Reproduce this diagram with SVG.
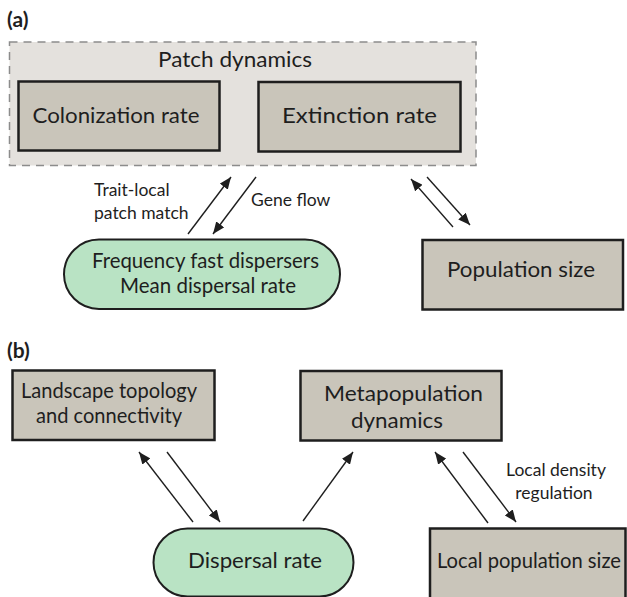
<svg xmlns="http://www.w3.org/2000/svg" width="627" height="597" viewBox="0 0 627 597">
<defs>
<marker id="ah" markerUnits="userSpaceOnUse" markerWidth="13" markerHeight="10" refX="12" refY="5" orient="auto">
<path d="M0,0 L12,5 L0,10 z" fill="#1e1e1e"/>
</marker>
<style>
.box{fill:#c9c5ba;stroke:#1e1e1e;stroke-width:2.5}
.pill{fill:#b9e3c4;stroke:#1e1e1e;stroke-width:2}
.grp{fill:#e4e1dd;stroke:#8c8c8c;stroke-width:1.5;stroke-dasharray:8 6}
.t{font-family:Lato,"Open Sans",sans-serif;fill:#1e1e1e;text-anchor:middle}
.big{font-size:22px}
.mid{font-size:20.5px}
.sm{font-size:17.5px}
.lab{font-family:Lato,"Liberation Sans",sans-serif;font-weight:bold;font-size:21px;fill:#1e1e1e}
.c line{stroke:#1e1e1e;stroke-width:1.4;marker-end:url(#ah)}
</style>
</defs>
<rect width="627" height="597" fill="#ffffff"/>
<text class="lab" x="7" y="27">(a)</text>
<text class="lab" x="7" y="358">(b)</text>

<g id="patch-dynamics">
<rect class="grp" x="9.5" y="42" width="466.5" height="123.5"/>
<text class="t big" x="235" y="67" textLength="154" lengthAdjust="spacingAndGlyphs">Patch dynamics</text>
</g>
<g id="colonization-rate">
<rect class="box" x="18.5" y="81.5" width="201" height="69"/>
<text class="t big" x="116" y="123" textLength="167" lengthAdjust="spacingAndGlyphs">Colonization rate</text>
</g>
<g id="extinction-rate">
<rect class="box" x="258.5" y="82" width="202" height="69.5"/>
<text class="t big" x="359.5" y="123" textLength="155" lengthAdjust="spacingAndGlyphs">Extinction rate</text>
</g>
<g id="frequency">
<rect class="pill" x="64" y="239.5" width="276" height="69.5" rx="35" ry="35"/>
<text class="t mid" x="205.5" y="268" textLength="227" lengthAdjust="spacingAndGlyphs">Frequency fast dispersers</text>
<text class="t mid" x="208" y="293" textLength="176" lengthAdjust="spacingAndGlyphs">Mean dispersal rate</text>
</g>
<g id="population-size">
<rect class="box" x="422.5" y="240" width="200.5" height="69.5"/>
<text class="t big" x="521" y="277" textLength="148" lengthAdjust="spacingAndGlyphs">Population size</text>
</g>

<g id="landscape">
<rect class="box" x="12.5" y="370.5" width="202" height="69.5"/>
<text class="t big" x="109" y="398" textLength="176" lengthAdjust="spacingAndGlyphs">Landscape topology</text>
<text class="t big" x="109" y="423" textLength="146" lengthAdjust="spacingAndGlyphs">and connectivity</text>
</g>
<g id="metapopulation">
<rect class="box" x="300.5" y="371" width="201" height="69.5"/>
<text class="t big" x="403.5" y="401" textLength="159" lengthAdjust="spacingAndGlyphs">Metapopulation</text>
<text class="t big" x="397" y="428" textLength="92" lengthAdjust="spacingAndGlyphs">dynamics</text>
</g>
<g id="dispersal-rate">
<rect class="pill" x="153.5" y="528.5" width="200" height="68" rx="34" ry="34"/>
<text class="t big" x="255" y="568" textLength="134" lengthAdjust="spacingAndGlyphs">Dispersal rate</text>
</g>
<g id="local-population-size">
<rect class="box" x="430" y="528.5" width="195.5" height="72"/>
<text class="t big" x="529" y="568" textLength="184" lengthAdjust="spacingAndGlyphs">Local population size</text>
</g>

<g id="edge-labels">
<text class="t sm" x="94" y="196" style="text-anchor:start">Trait-local</text>
<text class="t sm" x="94" y="219" style="text-anchor:start">patch match</text>
<text class="t sm" x="251" y="206" style="text-anchor:start">Gene flow</text>
<text class="t sm" x="556" y="476">Local density</text>
<text class="t sm" x="554" y="499">regulation</text>
</g>

<g id="connectors" class="c">
<line x1="188" y1="234" x2="231" y2="177"/>
<line x1="256" y1="177" x2="213" y2="234"/>
<line x1="453" y1="227" x2="411" y2="179"/>
<line x1="427" y1="177" x2="470" y2="225"/>
<line x1="193" y1="522" x2="139" y2="452"/>
<line x1="167" y1="452" x2="220" y2="522"/>
<line x1="303" y1="521" x2="353" y2="452"/>
<line x1="488" y1="523" x2="435" y2="452"/>
<line x1="463" y1="452" x2="516" y2="522"/>
</g>
</svg>
